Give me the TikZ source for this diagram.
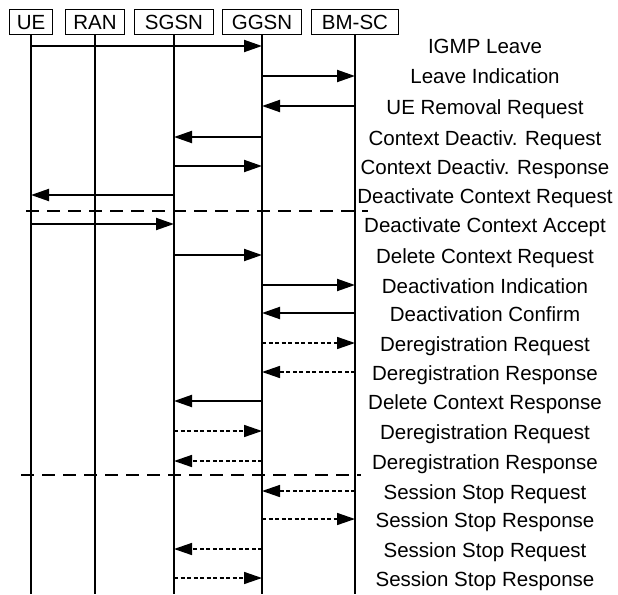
\documentclass[tikz,border=0pt]{standalone}
\usepackage{fontspec}
\setmainfont{Liberation Sans}
\usetikzlibrary{arrows.meta}
\begin{document}
\begin{tikzpicture}[x=1pt,y=-1pt,
  every node/.style={font=\fontsize{20.5}{24}\selectfont},
  hbox/.style={draw,line width=1.4pt,minimum height=25pt,inner sep=0pt,anchor=north},
  life/.style={line width=2pt},
  msg/.style={line width=2pt,-{Triangle[length=18pt,width=12pt]}},
  dmsg/.style={line width=1.5pt,dash pattern=on 4pt off 2.5pt,-{Triangle[length=18pt,width=12pt]}},
  sep/.style={line width=2pt,dash pattern=on 13pt off 8pt},
  lab/.style={anchor=base,inner sep=0pt}]
\useasboundingbox (0,0) rectangle (618,594);
% header boxes
\node[hbox,minimum width=43pt] (ue) at (31,9) {UE};
\node[hbox,minimum width=59pt] (ran) at (95,9) {RAN};
\node[hbox,minimum width=79pt] (sgsn) at (174,9) {SGSN};
\node[hbox,minimum width=79pt] (ggsn) at (262,9) {GGSN};
\node[hbox,minimum width=87pt] (bmsc) at (355,9) {BM-SC};
% lifeline ends
\coordinate (ueE) at (ue.south |- 0,594);
\coordinate (ranE) at (ran.south |- 0,594);
\coordinate (sgsnE) at (sgsn.south |- 0,594);
\coordinate (ggsnE) at (ggsn.south |- 0,594);
\coordinate (bmscE) at (bmsc.south |- 0,594);
\foreach \n in {ue,ran,sgsn,ggsn,bmsc}
  \draw[life] (\n.south) -- (\n E);
% row coordinates
\foreach \r/\y in {1/46,2/76,3/106,4/137,5/166,6/195,7/224,8/255,9/285,10/313,11/343,12/372,13/401,14/431,15/461,16/491,17/519,18/549,19/578}{
  \foreach \n in {ue,ran,sgsn,ggsn,bmsc}
    \coordinate (\n-\r) at (\n.south |- 0,\y);
}
% messages
\draw[msg] (ue-1) -- (ggsn-1);
\draw[msg] (ggsn-2) -- (bmsc-2);
\draw[msg] (bmsc-3) -- (ggsn-3);
\draw[msg] (ggsn-4) -- (sgsn-4);
\draw[msg] (sgsn-5) -- (ggsn-5);
\draw[msg] (sgsn-6) -- (ue-6);
\draw[msg] (ue-7) -- (sgsn-7);
\draw[msg] (sgsn-8) -- (ggsn-8);
\draw[msg] (ggsn-9) -- (bmsc-9);
\draw[msg] (bmsc-10) -- (ggsn-10);
\draw[dmsg] (ggsn-11) -- (bmsc-11);
\draw[dmsg] (bmsc-12) -- (ggsn-12);
\draw[msg] (ggsn-13) -- (sgsn-13);
\draw[dmsg] (sgsn-14) -- (ggsn-14);
\draw[dmsg] (ggsn-15) -- (sgsn-15);
\draw[dmsg] (bmsc-16) -- (ggsn-16);
\draw[dmsg] (ggsn-17) -- (bmsc-17);
\draw[dmsg] (ggsn-18) -- (sgsn-18);
\draw[dmsg] (sgsn-19) -- (ggsn-19);
% separators
\coordinate (s1a) at (26,211); \coordinate (s1b) at (368,211);
\coordinate (s2a) at (21,475); \coordinate (s2b) at (361,475);
\draw[sep] (s1a) -- (s1b);
\draw[sep] (s2a) -- (s2b);
% labels
\foreach \r/\y/\t in {1/46/IGMP Leave,2/76/Leave Indication,3/106/UE Removal Request,4/137/Context Deactiv. Request,5/166/Context Deactiv. Response,6/195/Deactivate Context Request,7/224/Deactivate Context Accept,8/255/Delete Context Request,9/285/Deactivation Indication,10/313/Deactivation Confirm,11/343/Deregistration Request,12/372/Deregistration Response,13/401/Delete Context Response,14/431/Deregistration Request,15/461/Deregistration Response,16/491/Session Stop Request,17/519/Session Stop Response,18/549/Session Stop Request,19/578/Session Stop Response}
  \node[lab] (lab\r) at (485,\y+8) {\t};
\end{tikzpicture}
\end{document}
